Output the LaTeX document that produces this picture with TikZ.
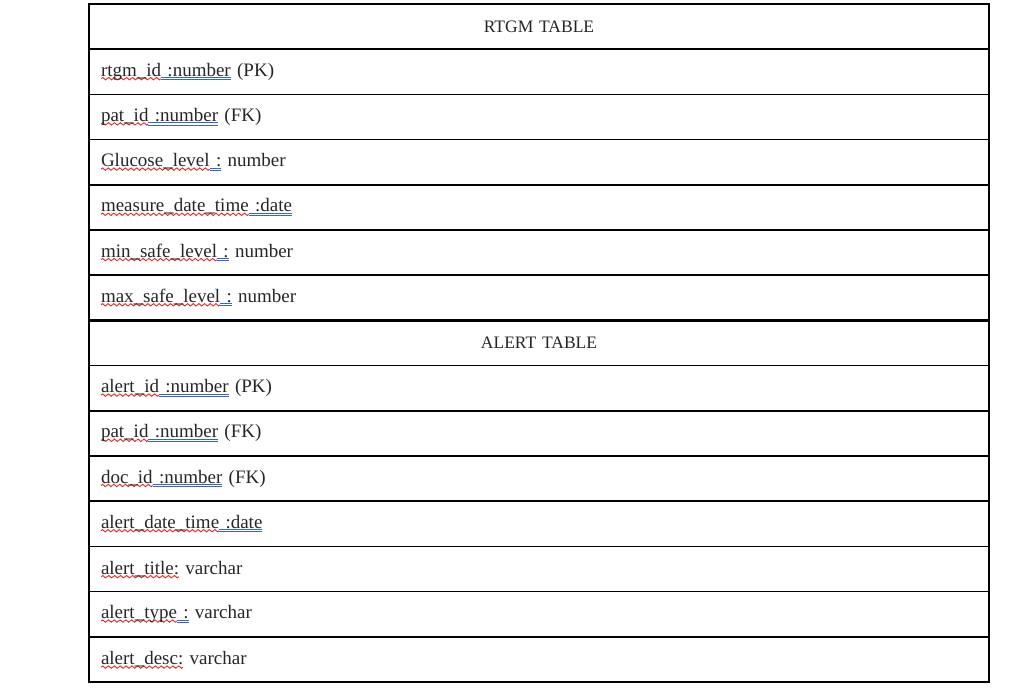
\documentclass[tikz,border=0pt]{standalone}
\usepackage{fontspec}
\setmainfont{Liberation Serif}
\usetikzlibrary{positioning}

\definecolor{spellred}{RGB}{224,40,40}
\definecolor{grammarblue}{RGB}{50,100,210}

% red wavy mark (spelling) and blue double line (grammar)
\newsavebox\wavebox
\newsavebox\markbox
\newcommand\spellerr[1]{\sbox\markbox{#1}\leavevmode\rlap{\raisebox{-2.3pt}{\hbox to \wd\markbox{\xleaders\copy\wavebox\hfil}}}\usebox\markbox}
\newcommand\grammarerr[1]{\sbox\markbox{#1}\leavevmode\rlap{\textcolor{grammarblue}{\rule[-1.9pt]{\wd\markbox}{1pt}}}\rlap{\textcolor{grammarblue}{\rule[-4pt]{\wd\markbox}{1pt}}}\usebox\markbox}

\begin{document}
\sbox\wavebox{\begin{pgfpicture}
  \pgfpathrectangle{\pgfpointorigin}{\pgfpoint{5.6pt}{0pt}}\pgfusepath{use as bounding box}
  \pgfsetlinewidth{0.9pt}\pgfsetstrokecolor{spellred}
  \pgfpathmoveto{\pgfpointorigin}
  \pgfpathsine{\pgfpoint{1.4pt}{1.2pt}}\pgfpathcosine{\pgfpoint{1.4pt}{-1.2pt}}
  \pgfpathsine{\pgfpoint{1.4pt}{-1.2pt}}\pgfpathcosine{\pgfpoint{1.4pt}{1.2pt}}
  \pgfusepath{stroke}
\end{pgfpicture}}
\begin{tikzpicture}[x=1pt, y=-1pt, font=\fontsize{19}{22}\selectfont, text=black!85,
    cell/.style={draw, line width=1.5pt, outer sep=0pt, minimum height=45.2pt, text width=876pt, inner xsep=12pt, inner ysep=0pt, align=left},
    headcell/.style={cell, align=center, font=\fontsize{17.5}{20}\selectfont}]
  \useasboundingbox (0,0) rectangle (1024,694);

  % RTGM table
  \node[headcell, anchor=north west] (rtgm) at (89,4) {RTGM TABLE};
  \node[cell, below=0pt of rtgm] (rtgmid) {\spellerr{rtgm\_id}\grammarerr{ :number} (PK)};
  \node[cell, below=0pt of rtgmid] (rtgmpat) {\spellerr{pat\_id}\grammarerr{ :number} (FK)};
  \node[cell, below=0pt of rtgmpat] (glucose) {\spellerr{Glucose\_level}\grammarerr{ :} number};
  \node[cell, below=0pt of glucose] (measure) {\spellerr{measure\_date\_time}\grammarerr{ :date}};
  \node[cell, below=0pt of measure] (minsafe) {\spellerr{min\_safe\_level}\grammarerr{ :} number};
  \node[cell, below=0pt of minsafe] (maxsafe) {\spellerr{max\_safe\_level}\grammarerr{ :} number};

  % ALERT table
  \node[headcell, below=0pt of maxsafe] (alert) {ALERT TABLE};
  \node[cell, below=0pt of alert] (alertid) {\spellerr{alert\_id}\grammarerr{ :number} (PK)};
  \node[cell, below=0pt of alertid] (alertpat) {\spellerr{pat\_id}\grammarerr{ :number} (FK)};
  \node[cell, below=0pt of alertpat] (alertdoc) {\spellerr{doc\_id}\grammarerr{ :number} (FK)};
  \node[cell, below=0pt of alertdoc] (alertdate) {\spellerr{alert\_date\_time}\grammarerr{ :date}};
  \node[cell, below=0pt of alertdate] (alerttitle) {\spellerr{alert\_title:} varchar};
  \node[cell, below=0pt of alerttitle] (alerttype) {\spellerr{alert\_type}\grammarerr{ :} varchar};
  \node[cell, below=0pt of alerttype] (alertdesc) {\spellerr{alert\_desc:} varchar};

  \draw[line width=3.2pt] (maxsafe.south west) -- (maxsafe.south east);
\end{tikzpicture}
\end{document}
